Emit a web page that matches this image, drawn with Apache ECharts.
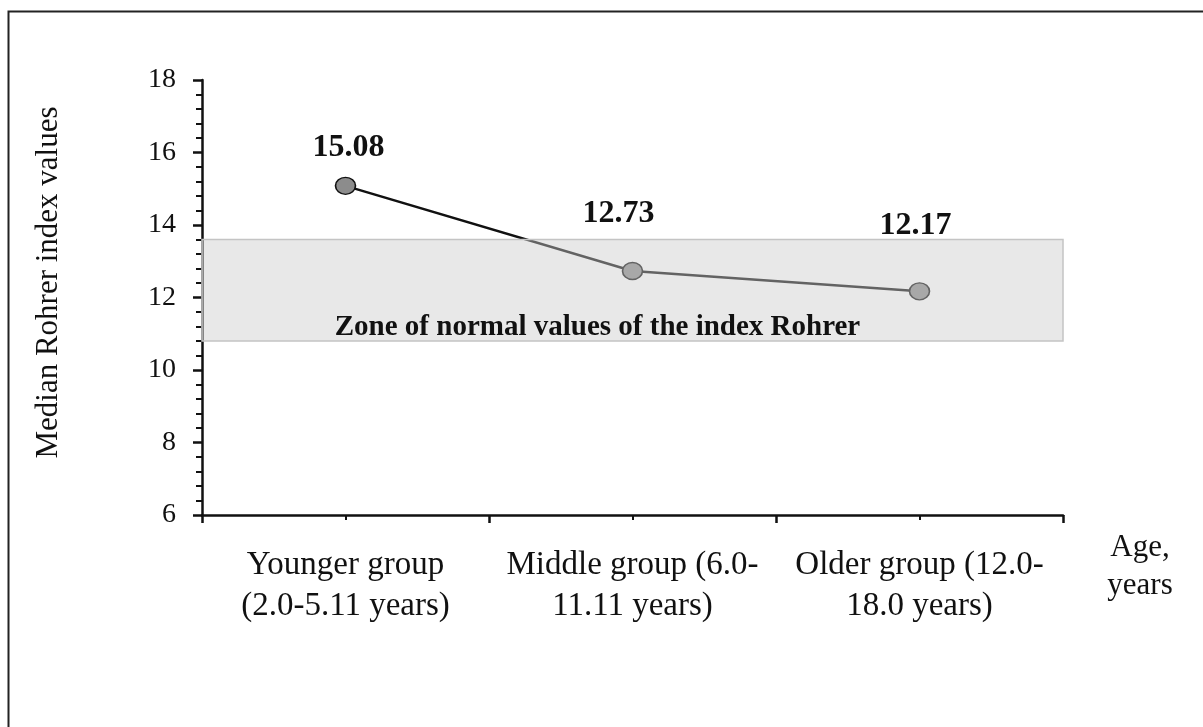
<!DOCTYPE html>
<html>
<head>
<meta charset="utf-8">
<script src="https://cdn.jsdelivr.net/npm/echarts@6/dist/echarts.min.js"></script>
<style>
html,body{margin:0;padding:0;background:#fff;}
#chart{width:1203px;height:727px;}
</style>
</head>
<body>
<div id="chart"></div>
<script>
const categories = ['Younger group\n(2.0-5.11 years)', 'Middle group (6.0-\n11.11 years)', 'Older group (12.0-\n18.0 years)'];
const medianValues = [15.08, 12.73, 12.17];
const normalZone = [10.8, 13.6];
const zoneLabel = 'Zone of normal values of the index Rohrer';
const yAxisTitle = 'Median Rohrer index values';
const xAxisTitle = 'Age,\nyears';
const yMin = 6, yMax = 18, yStep = 2;

const labelShift = [[3, -8], [-14, -27], [-4, -35]];
const serif = '"Liberation Serif", "DejaVu Serif", serif';

const chart = echarts.init(document.getElementById('chart'), null, {renderer: 'canvas'});
chart.setOption({
  backgroundColor: '#fff',
  animation: false,
  graphic: [{
    type: 'rect', left: 6, top: 9, silent: true,
    shape: {width: 1220, height: 740},
    style: {fill: 'none', stroke: '#222', lineWidth: 2}
  }],
  grid: {left: 202, right: 140, top: 80, bottom: 212},
  xAxis: [{
    type: 'category',
    data: categories,
    boundaryGap: true,
    name: xAxisTitle,
    nameLocation: 'end',
    nameGap: 77,
    nameTextStyle: {fontFamily: serif, fontSize: 31, color: '#111', align: 'center', verticalAlign: 'top', lineHeight: 38, padding: [14, 0, 0, 0]},
    axisLine: {lineStyle: {color: '#111', width: 2.5}},
    axisTick: {show: true, interval: 0, length: 8, lineStyle: {color: '#111', width: 2.5}},
    axisLabel: {fontFamily: serif, fontSize: 33, color: '#111', lineHeight: 41, margin: 30, interval: 0}
  }, {
    type: 'category',
    data: categories,
    position: 'bottom',
    axisLine: {show: false},
    axisLabel: {show: false},
    axisTick: {show: true, alignWithLabel: true, interval: 0, length: 5, lineStyle: {color: '#111', width: 2}}
  }],
  yAxis: {
    type: 'value',
    min: yMin, max: yMax, interval: yStep,
    name: yAxisTitle,
    nameLocation: 'middle',
    nameGap: 138,
    nameTextStyle: {fontFamily: serif, fontSize: 31, color: '#111', padding: [0, 0, 0, 30]},
    axisLine: {show: true, lineStyle: {color: '#111', width: 2.5}},
    axisTick: {show: true, length: 9, lineStyle: {color: '#111', width: 2.5}},
    minorTick: {show: true, splitNumber: 5, length: 6, lineStyle: {color: '#111', width: 2}},
    splitLine: {show: false},
    axisLabel: {fontFamily: serif, fontSize: 28, color: '#111', margin: 26}
  },
  series: [{
    type: 'line',
    xAxisIndex: 0,
    z: 2,
    data: medianValues.map((v, i) => ({
      value: v,
      label: {offset: labelShift[i]}
    })),
    symbol: 'circle',
    symbolSize: [20, 17],
    lineStyle: {color: '#111', width: 2.5},
    itemStyle: {color: '#8c8c8c', borderColor: '#111', borderWidth: 1.5},
    label: {
      show: true, position: 'top', distance: 5,
      fontFamily: serif, fontSize: 32, fontWeight: 'bold', color: '#111',
      formatter: p => p.value.toFixed(2)
    }
  }, {
    type: 'line',
    xAxisIndex: 0,
    z: 5,
    data: [],
    markArea: {
      silent: true,
      z: 10,
      itemStyle: {color: 'rgba(203,203,203,0.443)', borderColor: '#c4c4c4', borderWidth: 1.5},
      label: {
        show: true, position: 'insideBottom', distance: 0,
        offset: [-35, 0],
        fontFamily: serif, fontSize: 29, fontWeight: 'bold', color: '#111'
      },
      data: [[{yAxis: normalZone[0], name: zoneLabel}, {yAxis: normalZone[1]}]]
    }
  }]
});
</script>
</body>
</html>
